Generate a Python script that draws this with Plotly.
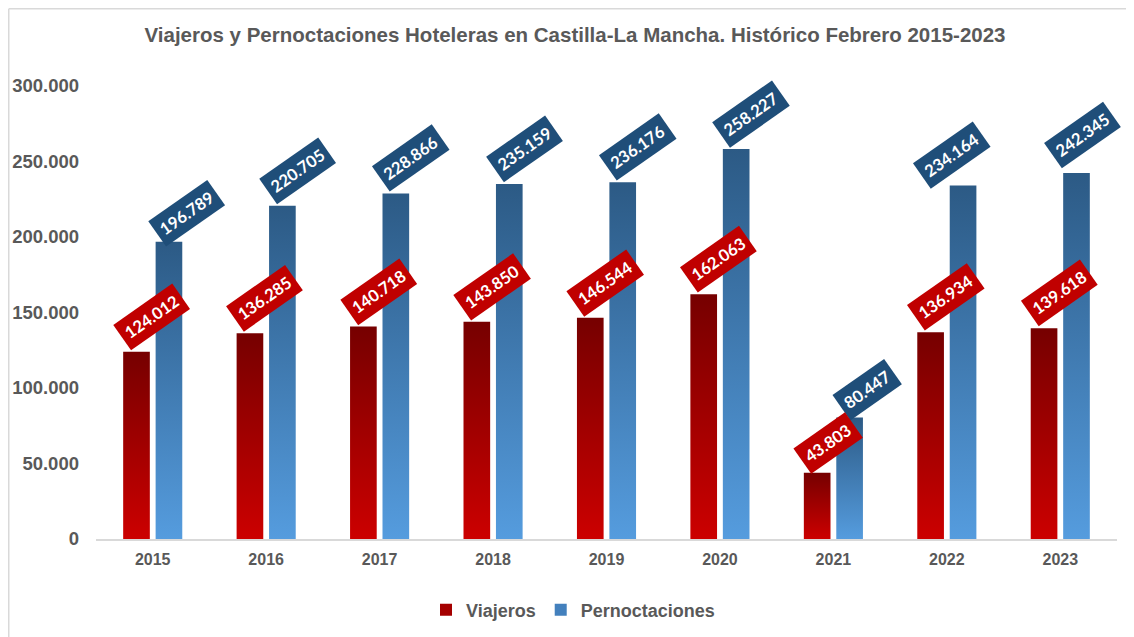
import plotly.graph_objects as go

years = ["2015", "2016", "2017", "2018", "2019", "2020", "2021", "2022", "2023"]
viajeros = [124012, 136285, 140718, 143850, 146544, 162063, 43803, 136934, 139618]
pernoctaciones = [196789, 220705, 228866, 235159, 236176, 258227, 80447, 234164, 242345]
y_ticks = [0, 50000, 100000, 150000, 200000, 250000, 300000]

W, H = 1126, 629
ML, MR, MT, MB = 88, 17, 78, 98
PW, PH = W - ML - MR, H - MT - MB

BAR_W = 0.235
OFF = 0.143
FONT = "Liberation Sans, Arial, sans-serif"

# label pixel offsets (xshift, yshift) relative to bar top centre
DEFAULT_SHIFT = (15, 35)
SHIFT_OVERRIDES = {
    ("Pernoctaciones", 0): (18, 29),
    ("Pernoctaciones", 6): (17, 28),
    ("Pernoctaciones", 7): (-11, 30),
    ("Pernoctaciones", 8): (6, 38),
    ("Viajeros", 6): (11, 30),
}


def es(n):
    return f"{n:,}".replace(",", ".")


series = [
    dict(name="Viajeros", values=viajeros, off=-OFF,
         grad=[[0, "#cc0000"], [1, "#760000"]], box="#c00000", solid="#a50000"),
    dict(name="Pernoctaciones", values=pernoctaciones, off=OFF,
         grad=[[0, "#559cde"], [1, "#2c5a85"]], box="#1f4e79", solid="#4380bd"),
]

fig = go.Figure()

for s in series:
    for i, v in enumerate(s["values"]):
        xc = i + s["off"]
        x0, x1 = xc - BAR_W / 2, xc + BAR_W / 2
        fig.add_trace(go.Scatter(
            x=[x0, x1, x1, x0, x0], y=[0, 0, v, v, 0],
            mode="lines", line=dict(width=0), fill="toself",
            fillgradient=dict(type="vertical", colorscale=s["grad"]),
            fillcolor=s["grad"][0][1],
            name=s["name"], legendgroup=s["name"], showlegend=False,
            hoverinfo="skip",
        ))
    # legend entry (square swatch)
    fig.add_trace(go.Bar(
        x=[None], y=[None], name=f"<b>{s['name']}</b>", legendgroup=s["name"],
        marker=dict(color=s["solid"], line=dict(width=0)), showlegend=True,
        hoverinfo="skip",
    ))

# labels: blue first so red labels sit on top where they overlap
for s in reversed(series):
    for i, v in enumerate(s["values"]):
        xc = i + s["off"]
        dx, dy = SHIFT_OVERRIDES.get((s["name"], i), DEFAULT_SHIFT)
        fig.add_annotation(
            x=xc, y=v, xref="x", yref="y", text=f"<b>{es(v)}</b>",
            showarrow=False, textangle=-35, xanchor="center", yanchor="middle",
            xshift=dx, yshift=dy,
            font=dict(family="Lato, Open Sans, sans-serif", size=16.5, color="white"),
            bgcolor=s["box"], borderpad=5,
        )

bx = (0.75 - ML) / PW
by = (PH + MT - 0.75) / PH

fig.update_layout(
    width=W, height=H,
    margin=dict(l=ML, r=MR, t=MT, b=MB, autoexpand=False),
    paper_bgcolor="white", plot_bgcolor="white",
    separators=",.",
    title=dict(
        text="<b>Viajeros y Pernoctaciones Hoteleras en Castilla-La Mancha. Histórico Febrero 2015-2023</b>",
        x=567 / W, xref="container", xanchor="center", y=1 - 27 / H, yref="container", yanchor="middle",
        font=dict(family=FONT, size=20.5, color="#595959"),
    ),
    xaxis=dict(
        range=[-0.5, 8.5], tickmode="array", tickvals=list(range(len(years))),
        ticktext=[f"<b>{y}</b>" for y in years], automargin=False,
        showgrid=False, zeroline=False, showline=True, linecolor="#d9d9d9", linewidth=1.5,
        ticks="", ticklabelstandoff=5,
        tickfont=dict(family=FONT, size=16, color="#595959"),
        fixedrange=True,
    ),
    yaxis=dict(
        range=[0, 300000], tickmode="array", tickvals=y_ticks,
        ticktext=[f"<b>{es(t)}</b>" for t in y_ticks], automargin=False,
        showgrid=False, zeroline=False, showline=False, ticks="", ticklabelstandoff=16,
        tickfont=dict(family=FONT, size=18.5, color="#595959"),
        fixedrange=True,
    ),
    legend=dict(
        orientation="h", xref="container", x=565 / W, xanchor="center",
        yref="container", y=1 - 602 / H, yanchor="middle",
        font=dict(family=FONT, size=18, color="#595959"),
        itemwidth=30, tracegroupgap=0,
    ),
    shapes=[
        dict(type="line", xref="paper", yref="paper",
             x0=bx, x1=bx, y0=by, y1=-MB / PH - 0.05,
             line=dict(color="#d9d9d9", width=1.5)),
        dict(type="line", xref="paper", yref="paper",
             x0=bx, x1=(W - ML + 5) / PW, y0=by, y1=by,
             line=dict(color="#d9d9d9", width=1.5)),
    ],
)

fig.write_html("out.html")
